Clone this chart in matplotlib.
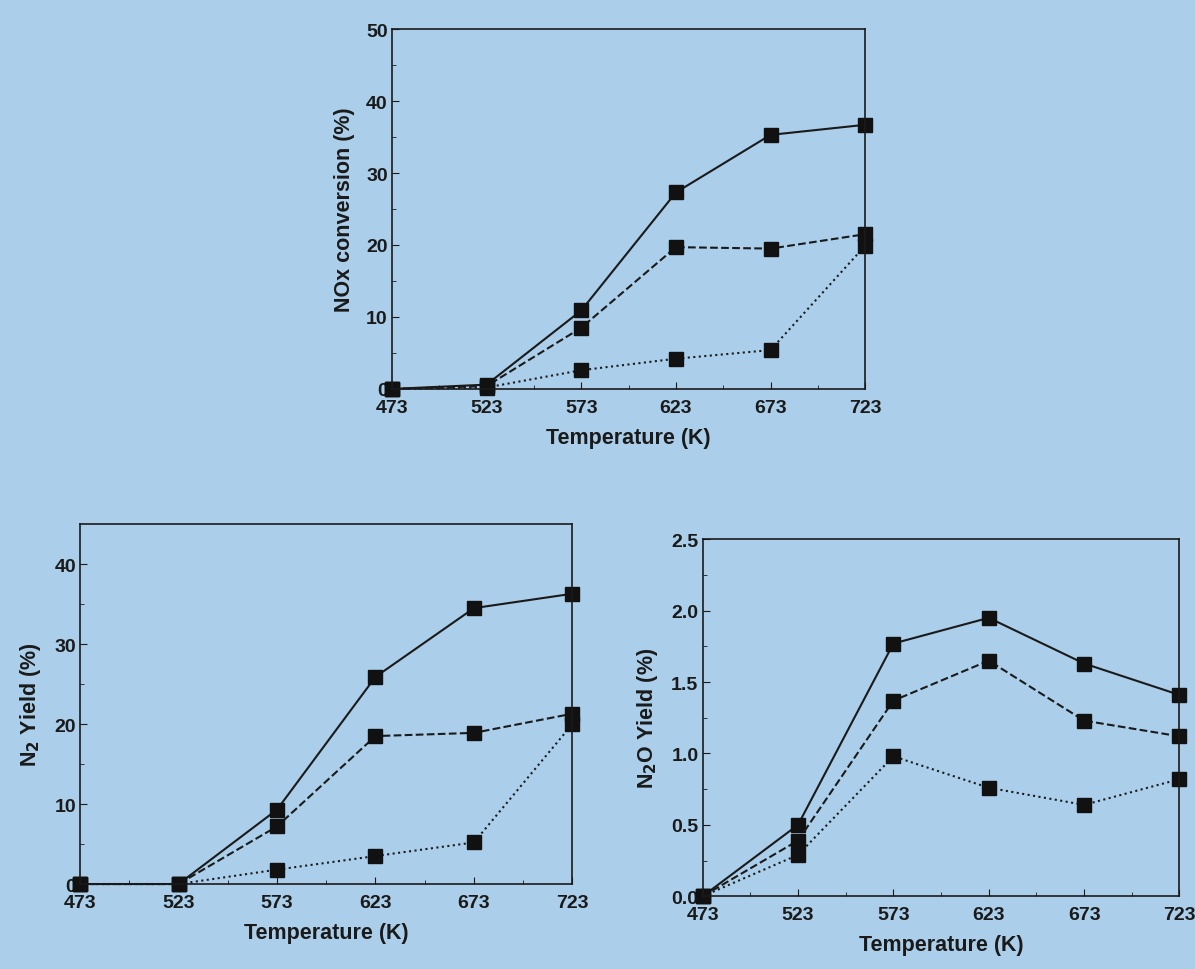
import numpy as np
from matplotlib import pyplot as plt

# %%
# Temperatures and the three series of each panel (solid, dashed, dotted)
temps = [473, 523, 573, 623, 673, 723]

nox_solid = [0, 0.6, 10.9, 27.3, 35.3, 36.7]
nox_dashed = [0, 0.4, 8.5, 19.7, 19.5, 21.5]
nox_dotted = [0, 0.2, 2.6, 4.2, 5.4, 19.9]

n2_solid = [0, 0, 9.3, 25.9, 34.5, 36.3]
n2_dashed = [0, 0, 7.2, 18.5, 18.9, 21.3]
n2_dotted = [0, 0, 1.8, 3.5, 5.2, 20.0]

n2o_solid = [0, 0.50, 1.77, 1.95, 1.63, 1.41]
n2o_dashed = [0, 0.39, 1.37, 1.65, 1.23, 1.12]
n2o_dotted = [0, 0.29, 0.98, 0.76, 0.64, 0.82]

# %%
bg = '#abcfea'
ink = '#1a1a1a'
plt.rcParams['font.family'] = ['Liberation Sans', 'DejaVu Sans']
plt.rcParams['font.weight'] = 'bold'

fig = plt.figure(figsize=(11.95, 9.70), dpi=100, facecolor=bg)


def panel(rect, series, ylim, yticks, yminor, ylabel):
    ax = fig.add_axes(rect, facecolor=bg)
    styles = ['-', '--', ':']
    for vals, ls in zip(series, styles):
        ax.plot(temps, vals, linestyle=ls, color=ink, lw=1.5,
                marker='s', ms=10, mfc='#111111', mec='#111111', clip_on=False)
    ax.set_xlim(473, 723)
    ax.set_ylim(*ylim)
    ax.set_xticks(temps)
    ax.set_xticks(np.arange(498, 723, 50), minor=True)
    ax.set_yticks(yticks)
    ax.set_yticks(yminor, minor=True)
    ax.tick_params(direction='in', which='both', colors=ink, labelsize=14)
    ax.tick_params(which='major', length=5)
    ax.tick_params(which='minor', length=3)
    ax.tick_params(axis='x', pad=7)
    ax.tick_params(axis='y', pad=3)
    for s in ax.spines.values():
        s.set_color(ink)
        s.set_linewidth(1.2)
    ax.set_xlabel('Temperature (K)', fontsize=15.5, fontweight='bold', color=ink, labelpad=8)
    ax.set_ylabel(ylabel, fontsize=15.5, fontweight='bold', color=ink, labelpad=8)
    return ax


ax1 = panel([0.328, 0.598, 0.396, 0.371],
            [nox_solid, nox_dashed, nox_dotted],
            (0, 50), [0, 10, 20, 30, 40, 50], [5, 15, 25, 35, 45],
            'NOx conversion (%)')

ax2 = panel([0.067, 0.0876, 0.412, 0.371],
            [n2_solid, n2_dashed, n2_dotted],
            (0, 45), [0, 10, 20, 30, 40], [5, 15, 25, 35],
            r'N$_\mathbf{2}$ Yield (%)')

ax3 = panel([0.588, 0.075, 0.399, 0.368],
            [n2o_solid, n2o_dashed, n2o_dotted],
            (0, 2.5), [0.0, 0.5, 1.0, 1.5, 2.0, 2.5], [0.25, 0.75, 1.25, 1.75, 2.25],
            r'N$_\mathbf{2}$O Yield (%)')
ax3.yaxis.set_major_formatter(plt.FormatStrFormatter('%.1f'))

plt.savefig('out.png', dpi=100, facecolor=bg)
